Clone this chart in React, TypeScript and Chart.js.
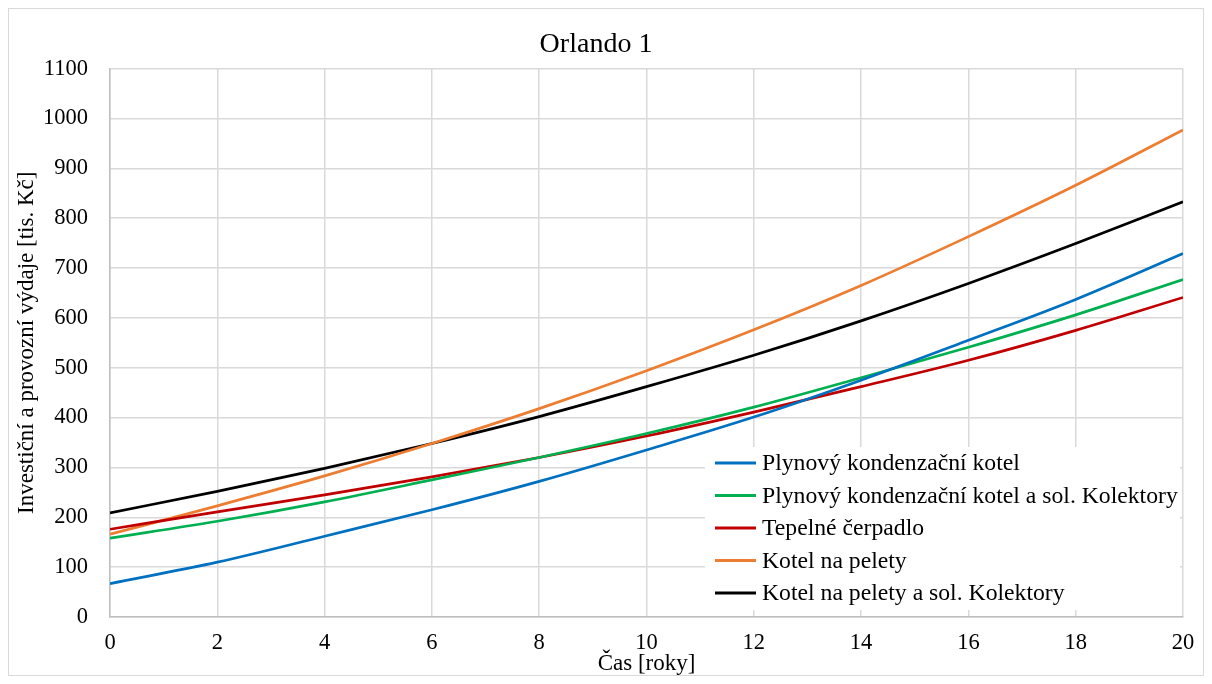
import React, { useEffect, useRef } from 'react';
import { Chart, registerables } from 'chart.js';

Chart.register(...registerables);

// ---- data ----
const years = [0, 2, 4, 6, 8, 10, 12, 14, 16, 18, 20];
const plynovyKotel = [67, 110, 162, 215, 272, 335, 401, 475, 555, 637, 729];
const plynovyKotelSol = [158, 192, 231, 275, 320, 368, 421, 480, 541, 606, 677];
const tepelneCerpadlo = [176, 211, 245, 281, 320, 363, 411, 462, 515, 575, 641];
const kotelPelety = [166, 223, 283, 348, 418, 494, 576, 665, 763, 866, 977];
const kotelPeletySol = [209, 252, 298, 348, 402, 462, 525, 594, 669, 749, 833];

const seriesLabels = [
  'Plynový kondenzační kotel',
  'Plynový kondenzační kotel a sol. Kolektory',
  'Tepelné čerpadlo',
  'Kotel na pelety',
  'Kotel na pelety a sol. Kolektory',
];
const seriesValues = [plynovyKotel, plynovyKotelSol, tepelneCerpadlo, kotelPelety, kotelPeletySol];
const seriesColors = ['#0070C0', '#00B050', '#C00000', '#ED7D31', '#000000'];

const chartTitle = 'Orlando 1';
const xTitle = 'Čas [roky]';
const yTitle = 'Investiční a provozní výdaje [tis. Kč]';

const FONT = "'Liberation Serif', 'Times New Roman', serif";

const insideLegend = {
  id: 'insideLegend',
  afterDatasetsDraw(chart: any) {
    const ctx = chart.ctx as CanvasRenderingContext2D;
    const { right, bottom } = chart.chartArea;
    const x0 = right - 478;
    const y0 = bottom - 170;
    ctx.save();
    ctx.fillStyle = '#ffffff';
    ctx.fillRect(x0, y0, 475, 163);
    ctx.font = `23.7px ${FONT}`;
    ctx.textBaseline = 'middle';
    ctx.textAlign = 'left';
    chart.data.datasets.forEach((ds: any, i: number) => {
      const y = bottom - 154 + i * 32.5;
      ctx.strokeStyle = ds.borderColor;
      ctx.lineWidth = 3;
      ctx.beginPath();
      ctx.moveTo(x0 + 10, y);
      ctx.lineTo(x0 + 51, y);
      ctx.stroke();
      ctx.fillStyle = '#000000';
      ctx.fillText(ds.label, x0 + 57, y + 1);
    });
    ctx.restore();
  },
};

export default function App() {
  const ref = useRef<HTMLCanvasElement | null>(null);

  useEffect(() => {
    if (!ref.current) return;
    const chart = new Chart(ref.current, {
      type: 'line',
      data: {
        datasets: seriesLabels.map((label, i) => ({
          label,
          data: years.map((x, j) => ({ x, y: seriesValues[i][j] })),
          borderColor: seriesColors[i],
          backgroundColor: seriesColors[i],
          borderWidth: 2.7,
          pointRadius: 0,
          cubicInterpolationMode: 'monotone' as const,
          fill: false,
        })),
      },
      plugins: [insideLegend],
      options: {
        animation: false,
        responsive: false,
        maintainAspectRatio: false,
        layout: { padding: { left: 0, right: 20, top: 0, bottom: 0 } },
        plugins: {
          legend: { display: false },
          tooltip: { enabled: false },
          title: {
            display: true,
            text: chartTitle,
            color: '#000000',
            font: { family: FONT, size: 28, weight: 'normal', lineHeight: 1.2 },
            padding: { top: 19, bottom: 7 },
          },
        },
        scales: {
          x: {
            type: 'linear',
            min: 0,
            max: 20,
            ticks: {
              stepSize: 2,
              color: '#000000',
              padding: 13,
              font: { family: FONT, size: 22.5 },
              callback: (v: any) => String(v),
            },
            grid: { color: '#d9d9d9', lineWidth: 1.5, drawTicks: false },
            border: { color: '#bfbfbf', width: 1.5 },
            title: {
              display: true,
              text: xTitle,
              color: '#000000',
              font: { family: FONT, size: 23, lineHeight: 1 },
              padding: { top: 0, bottom: 0 },
            },
            afterFit: (scale: any) => {
              scale.height = 58;
              scale.paddingRight = 0;
              scale.paddingLeft = 0;
            },
          },
          y: {
            type: 'linear',
            min: 0,
            max: 1100,
            ticks: {
              stepSize: 100,
              color: '#000000',
              padding: 22,
              font: { family: FONT, size: 22.5 },
              callback: (v: any) => String(v),
            },
            grid: { color: '#d9d9d9', lineWidth: 1.5, drawTicks: false },
            border: { color: '#bfbfbf', width: 1.5 },
            title: {
              display: true,
              text: yTitle,
              color: '#000000',
              font: { family: FONT, size: 23, lineHeight: 1.2 },
              padding: { top: 4, bottom: 0 },
            },
            afterFit: (scale: any) => {
              scale.width = 101;
            },
          },
        },
      },
    });
    return () => chart.destroy();
  }, []);

  return (
    <div style={{ width: 1194, height: 666, border: '1px solid #d9d9d9', background: '#ffffff' }}>
      <canvas ref={ref} width={1194} height={666} style={{ display: 'block', width: 1194, height: 666 }} />
    </div>
  );
}
